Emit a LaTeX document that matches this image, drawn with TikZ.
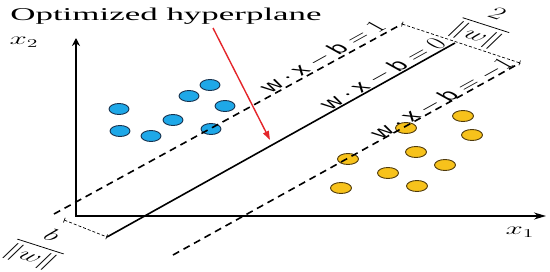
\documentclass[tikz,border=0pt]{standalone}
\usepackage{amsmath}
\usepackage{fontspec}
\setmainfont{Liberation Serif}
\setsansfont{Liberation Sans}
\usepackage{tikz}
\usetikzlibrary{arrows.meta, shapes.geometric}
\definecolor{svmBlue}{HTML}{1EA8E8}
\definecolor{svmBlueEdge}{HTML}{17324F}
\definecolor{svmGold}{HTML}{F7C21B}
\definecolor{svmGoldEdge}{HTML}{4F3A0C}
\definecolor{svmRed}{HTML}{E4262B}
\newcommand{\wxb}[1]{$\textsf{w}\cdot\textsf{x}-\textsf{b}=#1$}
\tikzset{
  axisline/.style={line width=1.6pt},
  hyperline/.style={line width=1.6pt},
  marginline/.style={line width=1.6pt, dash pattern=on 7pt off 5pt},
  gapline/.style={line width=0.7pt, dash pattern=on 3pt off 2pt,
    {Bar[width=5pt]}-{Bar[width=5pt]}},
  bluept/.style={ellipse, draw=svmBlueEdge, fill=svmBlue, line width=0.9pt,
    minimum width=20pt, minimum height=11pt, inner sep=0pt},
  goldpt/.style={ellipse, draw=svmGoldEdge, fill=svmGold, line width=0.9pt,
    minimum width=21pt, minimum height=11pt, inner sep=0pt},
  linelabel/.style={font=\fontsize{16}{18}\selectfont, inner sep=0pt,
    xscale=1.8, rotate=45},
  fraclabel/.style={font=\fontsize{16}{18}\selectfont, inner sep=0pt,
    xscale=1.8, rotate=-30},
  axislabel/.style={font=\fontsize{18}{20}\selectfont, inner sep=0pt,
    xscale=1.8},
}

\begin{document}
\begin{tikzpicture}[x=1pt, y=-1pt]
    \useasboundingbox (0,0) rectangle (550,271);
    % ---------------- axes ----------------
    \coordinate (O) at (76,216);
    \coordinate (ytop) at (76,38);
    \coordinate (xend) at (546,216);
    \draw[axisline, -{Stealth[length=8pt, width=8pt]}] (O) -- (ytop);
    \draw[axisline, -{Stealth[length=12pt, width=7pt]}] (75.2,216) -- (xend);
    \node[axislabel] (x2) at (24,42) {$x_2$};
    \node[axislabel] (x1) at (520,232) {$x_1$};
    % ---------------- samples ----------------
    \foreach \p [count=\i] in {(210,85),(189,96),(225,106),(119,109),
                               (173,120),(120,131),(151,136),(211,129)}
      \node[bluept] (blue\i) at \p {};
    \foreach \p [count=\i] in {(463,116),(472,135),(406,128),(416,152),
                               (445,165),(348,159),(388,173),(341,188),
                               (417,186)}
      \node[goldpt] (gold\i) at \p {};
    % ---------------- hyperplane and margins ----------------
    \coordinate (upA) at (54,214);
    \coordinate (upB) at (402,24);
    \coordinate (midA) at (107,237);
    \coordinate (midB) at (455,43);
    \coordinate (lowA) at (173,255);
    \coordinate (lowB) at (520,63);
    \coordinate (orig) at (64,220);
    \draw[marginline] (upA) -- (upB);
    \draw[hyperline] (midA) -- (midB);
    \draw[marginline] (lowA) -- (lowB);
    \draw[gapline] (upB) -- (lowB);
    \draw[gapline] (orig) -- (midA);
    \node[linelabel] (lblup) at (323,57) {\wxb{1}};
    \node[linelabel] (lblmid) at (383,74) {\wxb{0}};
    \node[linelabel] (lbllow) at (442,99) {\wxb{-1}};
    \node[fraclabel] (width) at (485,26) {$\dfrac{2}{\|w\|}$};
    \node[fraclabel] (offset) at (40,247) {$\dfrac{b}{\|w\|}$};
    % ---------------- callout ----------------
    \node[font=\fontsize{18}{20}\selectfont, inner sep=0pt, xscale=1.94]
      (title) at (166,16) {Optimized hyperplane};
    \coordinate (tip) at (270,140);
    \draw[svmRed, line width=1.4pt, -{Triangle[length=9pt, width=6pt]}]
      (213,28) -- (tip);
\end{tikzpicture}
\end{document}
